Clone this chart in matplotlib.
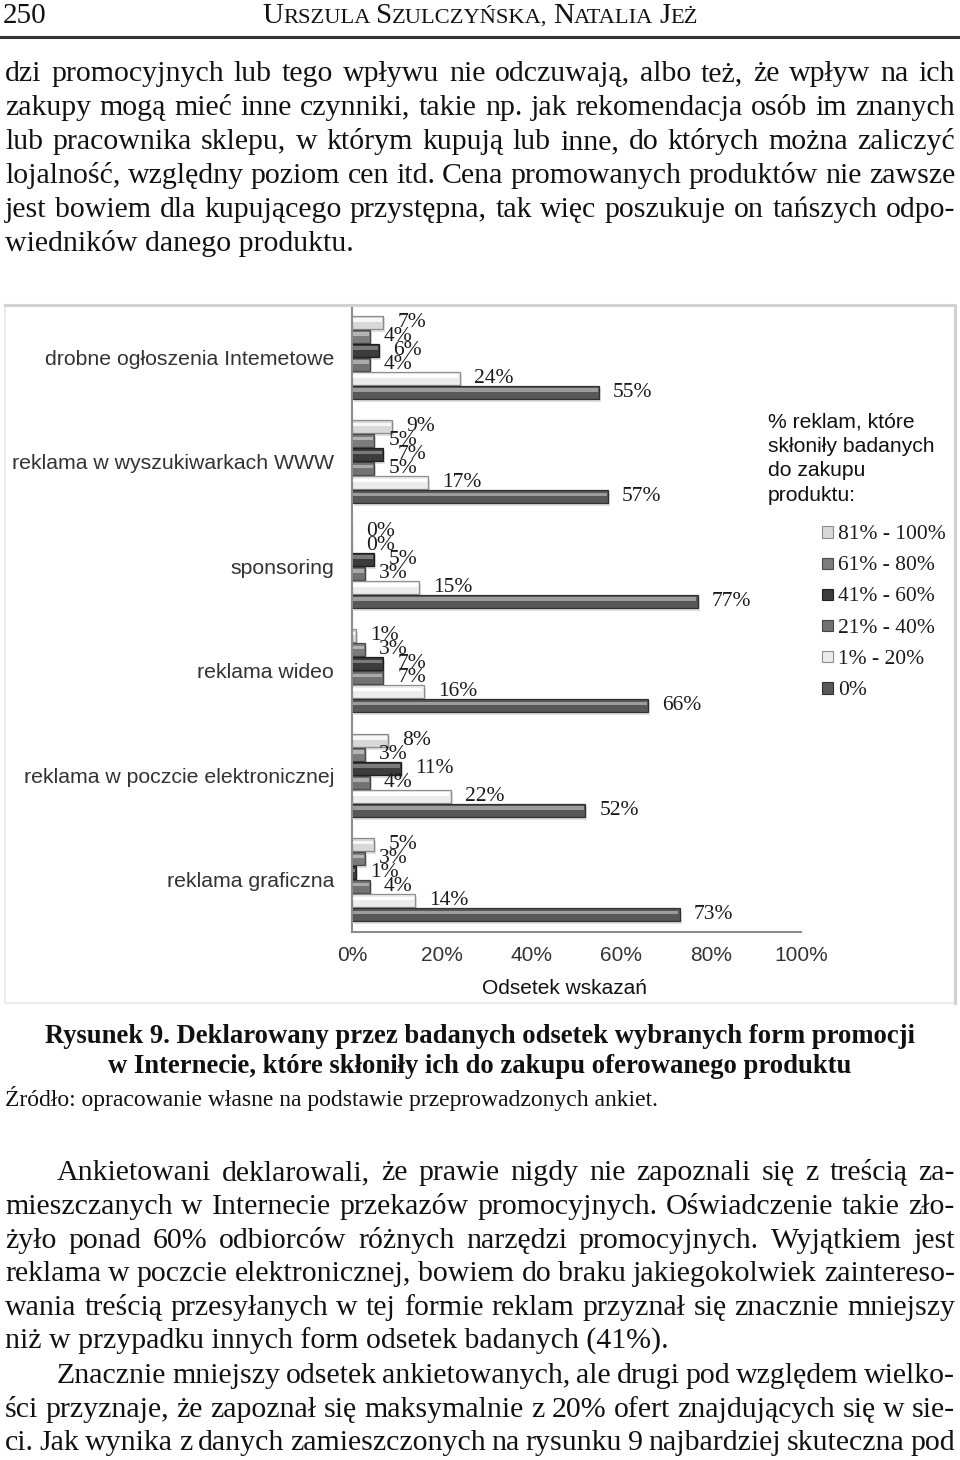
import matplotlib
matplotlib.use('Agg')
import matplotlib.pyplot as plt
from matplotlib.patches import Rectangle
from matplotlib.lines import Line2D
import numpy as np

W, H = 960, 1460
SERIF = 'Liberation Serif'
SANS = 'Liberation Sans'

# chart data (bars top to bottom inside each group)
categories = ['drobne ogłoszenia Intemetowe', 'reklama w wyszukiwarkach WWW', 'sponsoring',
              'reklama wideo', 'reklama w poczcie elektronicznej', 'reklama graficzna']
series = ['81% - 100%', '61% - 80%', '41% - 60%', '21% - 40%', '1% - 20%', '0%']
v_81_100 = [7, 9, 0, 1, 8, 5]
v_61_80 = [4, 5, 0, 3, 3, 3]
v_41_60 = [6, 7, 5, 7, 11, 1]
v_21_40 = [4, 5, 3, 7, 4, 4]
v_1_20 = [24, 17, 15, 16, 22, 14]
v_0 = [55, 57, 77, 66, 52, 73]
values = [v_81_100, v_61_80, v_41_60, v_21_40, v_1_20, v_0]
xticks = [0, 20, 40, 60, 80, 100]
xticklabels = ['0%', '20%', '40%', '60%', '80%', '100%']

face = ['#d8d8d8', '#7c7c7c', '#3c3c3c', '#727272', '#ececec', '#585858']
light = ['#f7f7f7', '#b4b4b4', '#7a7a7a', '#aaaaaa', '#ffffff', '#9c9c9c']
edge = ['#8a8a8a', '#4a4a4a', '#1e1e1e', '#444444', '#8e8e8e', '#303030']

legend_title = ['% reklam, które', 'skłoniły badanych', 'do zakupu', 'produktu:']

header_num = '250'
header_name = [('U', 1), ('RSZULA', 0), (' ', 0), ('S', 1), ('ZULCZYŃSKA,', 0), (' ', 0),
               ('N', 1), ('ATALIA', 0), (' ', 0), ('J', 1), ('EŻ', 0)]

top_par = [
    'dzi promocyjnych lub tego wpływu nie odczuwają, albo też, że wpływ na ich',
    'zakupy mogą mieć inne czynniki, takie np. jak rekomendacja osób im znanych',
    'lub pracownika sklepu, w którym kupują lub inne, do których można zaliczyć',
    'lojalność, względny poziom cen itd. Cena promowanych produktów nie zawsze',
    'jest bowiem dla kupującego przystępna, tak więc poszukuje on tańszych odpo-',
    'wiedników danego produktu.',
]
caption = ['Rysunek 9. Deklarowany przez badanych odsetek wybranych form promocji',
           'w Internecie, które skłoniły ich do zakupu oferowanego produktu']
source = 'Źródło: opracowanie własne na podstawie przeprowadzonych ankiet.'
bottom_par = [
    'Ankietowani deklarowali, że prawie nigdy nie zapoznali się z treścią za-',
    'mieszczanych w Internecie przekazów promocyjnych. Oświadczenie takie zło-',
    'żyło ponad 60% odbiorców różnych narzędzi promocyjnych. Wyjątkiem jest',
    'reklama w poczcie elektronicznej, bowiem do braku jakiegokolwiek zaintereso-',
    'wania treścią przesyłanych w tej formie reklam przyznał się znacznie mniejszy',
    'niż w przypadku innych form odsetek badanych (41%).',
    'Znacznie mniejszy odsetek ankietowanych, ale drugi pod względem wielko-',
    'ści przyznaje, że zapoznał się maksymalnie z 20% ofert znajdujących się w sie-',
    'ci. Jak wynika z danych zamieszczonych na rysunku 9 najbardziej skuteczna pod',
]
bottom_indent = [1, 0, 0, 0, 0, 0, 1, 0, 0]
bottom_last = [0, 0, 0, 0, 0, 1, 0, 0, 0]

fig = plt.figure(figsize=(W / 100, H / 100), dpi=100)
fig.patch.set_facecolor('white')
renderer = fig.canvas.get_renderer()


def fx(x):
    return x / W


def fy(y):
    return 1 - y / H


def width_of(s, size, weight='normal', family=SERIF):
    t = fig.text(0, 0, s, fontsize=size, family=family, weight=weight)
    w = t.get_window_extent(renderer).width
    t.remove()
    return w


def put_line(s, yb, size, x0=5, x1=955, justify=True, weight='normal'):
    if not justify:
        fig.text(fx(x0), fy(yb), s, fontsize=size, family=SERIF, weight=weight,
                 va='baseline', ha='left', color='#111111')
        return
    words = s.split(' ')
    ws = [width_of(w, size, weight) for w in words]
    gap = (x1 - x0 - sum(ws)) / (len(words) - 1)
    x = x0
    for w, wd in zip(words, ws):
        fig.text(fx(x), fy(yb), w, fontsize=size, family=SERIF, weight=weight,
                 va='baseline', ha='left', color='#111111')
        x += wd + gap


# pick one body size so that every justified line fits
base = 21.5
need = 1.0
for line, ind in zip(top_par[:-1] + [l for l, last in zip(bottom_par, bottom_last) if not last],
                     [0] * 5 + [i for i, last in zip(bottom_indent, bottom_last) if not last]):
    words = line.split(' ')
    tot = sum(width_of(w, base) for w in words) + (len(words) - 1) * 0.18 * base / 0.72
    avail = 950 - 52 * ind
    need = min(need, avail / tot)
body = base * need

# header
fig.text(fx(3), fy(23), header_num, fontsize=21, family=SERIF, va='baseline', color='#111111')
pieces = [(s, 21 if big else 16.2) for s, big in header_name]
pw = [(0.25 * sz / 0.72 if s == ' ' else width_of(s, sz)) for s, sz in pieces]
x = 480 - sum(pw) / 2
for (s, sz), w in zip(pieces, pw):
    if s != ' ':
        fig.text(fx(x), fy(23), s, fontsize=sz, family=SERIF, va='baseline', color='#111111')
    x += w
fig.add_artist(Line2D([0, 1], [fy(37), fy(37)], color='#333333', lw=2.2))

# top paragraph
for k, line in enumerate(top_par):
    put_line(line, 81 + 34 * k, body, justify=(k < len(top_par) - 1))

# chart frame
fig.add_artist(Rectangle((fx(5), fy(1003)), 950 / W, 698 / H, transform=fig.transFigure,
                         fill=False, edgecolor='#ececec', lw=1.5))
fig.add_artist(Line2D([fx(5), fx(955), fx(955)], [fy(305), fy(305), fy(1003)],
                      color='#d2d2d2', lw=2.2))

ax = fig.add_axes([352 / W, 1 - 932 / H, 449 / W, 627 / H])
ax.set_xlim(0, 100)
ax.set_ylim(5.5, -0.5)
step = 0.134
ypos = np.arange(len(categories))
for j in range(len(series)):
    y = ypos + (j - 2.5) * step
    ax.barh(y + 0.025, values[j], height=0.128, left=0.4, color='#000000', alpha=0.12, lw=0, zorder=1)
    ax.barh(y, values[j], height=0.128, color=face[j], edgecolor=edge[j], lw=0.9, zorder=2)
    ax.barh(y - 0.02, np.maximum(np.array(values[j]) - 0.6, 0), height=0.035, left=0.3,
            color=light[j], lw=0, zorder=3)
    for yy, v in zip(y, values[j]):
        ax.annotate(f'{v}%', (v, yy), xytext=(10, 0), textcoords='offset points',
                    ha='left', va='center', fontsize=15.5, family=SERIF, color='#1a1a1a')

ax.set_yticks(ypos)
ax.set_yticklabels(categories, fontsize=15.3, family=SANS, color='#333333')
ax.set_xticks(xticks)
ax.set_xticklabels(xticklabels, fontsize=15, family=SANS, color='#333333')
ax.tick_params(axis='y', length=0, pad=13)
ax.tick_params(axis='x', length=0, pad=10)
for sp in ['top', 'right']:
    ax.spines[sp].set_visible(False)
for sp in ['left', 'bottom']:
    ax.spines[sp].set_color('#8c8c8c')
    ax.spines[sp].set_linewidth(1.5)
fig.text(fx(565), fy(994), 'Odsetek wskazań', fontsize=15, family=SANS, ha='center',
         va='baseline', color='#111111')

# legend
for k, line in enumerate(legend_title):
    fig.text(fx(768), fy(427 + 24.7 * k), line, fontsize=15.2, family=SANS, va='baseline', color='#111111')
for j, lab in enumerate(series):
    yc = 532 + 31.2 * j
    fig.add_artist(Rectangle((fx(822), fy(yc + 5.5)), 11 / W, 11 / H, transform=fig.transFigure,
                             facecolor=face[j], edgecolor=edge[j], lw=0.8))
    fig.text(fx(838), fy(yc + 7), lab, fontsize=15.5, family=SERIF, va='baseline', color='#1a1a1a')

# caption
for k, line in enumerate(caption):
    fig.text(fx(480), fy(1043 + 30 * k), line, fontsize=19.2, family=SERIF, weight='bold',
             ha='center', va='baseline', color='#111111')
fig.text(fx(5), fy(1106), source, fontsize=17, family=SERIF, va='baseline', color='#111111')

# bottom paragraphs
for k, line in enumerate(bottom_par):
    x0 = 57 if bottom_indent[k] else 5
    put_line(line, 1180 + 33.8 * k, body, x0=x0, justify=not bottom_last[k])

fig.savefig('out.png', dpi=100)
